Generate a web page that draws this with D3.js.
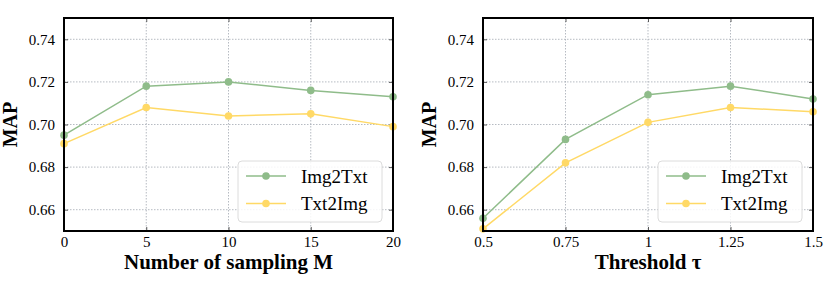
<!DOCTYPE html>
<html>
<head>
<meta charset="utf-8">
<script src="https://cdn.jsdelivr.net/npm/d3@7"></script>
<style>
  body { margin: 0; background: #fff; }
  svg text { font-family: "Liberation Serif", "Times New Roman", serif; fill: #000; }
</style>
</head>
<body>
<div class="chart"></div>
<script>
var svgWidth = 830;
var svgHeight = 293;

// data
var seriesNames = ["Img2Txt", "Txt2Img"];
var seriesColors = ["#8fbc8a", "#ffd966"];

var samplingM = [0, 5, 10, 15, 20];
var samplingImg2Txt = [0.695, 0.718, 0.720, 0.716, 0.713];
var samplingTxt2Img = [0.691, 0.708, 0.704, 0.705, 0.699];

var thresholds = [0.5, 0.75, 1, 1.25, 1.5];
var thresholdImg2Txt = [0.656, 0.693, 0.714, 0.718, 0.712];
var thresholdTxt2Img = [0.651, 0.682, 0.701, 0.708, 0.706];

var yTicks = [0.66, 0.68, 0.70, 0.72, 0.74];
var yDomain = [0.65, 0.75];

var panels = [
  {
    left: 64, right: 393, xs: samplingM, series: [samplingImg2Txt, samplingTxt2Img],
    xDomain: [0, 20], xTicks: samplingM, xFormat: d3.format("d"),
    xLabel: "Number of sampling M", legendX: 238
  },
  {
    left: 483, right: 813, xs: thresholds, series: [thresholdImg2Txt, thresholdTxt2Img],
    xDomain: [0.5, 1.5], xTicks: thresholds, xFormat: d => String(d),
    xLabel: "Threshold \u03c4", legendX: 658
  }
];

var plotTop = 18, plotBottom = 231;
var serif = "'Liberation Serif', 'Times New Roman', serif";

var svg = d3.select(".chart")
  .append("svg")
  .attr("width", svgWidth)
  .attr("height", svgHeight);

panels.forEach(function(p) {
  var width = p.right - p.left;
  var height = plotBottom - plotTop;

  var x = d3.scaleLinear().domain(p.xDomain).range([0, width]);
  var y = d3.scaleLinear().domain(yDomain).range([height, 0]);

  var g = svg.append("g").attr("transform", `translate(${p.left}, ${plotTop})`);

  // grid
  g.append("g").selectAll("line").data(p.xTicks).enter().append("line")
    .attr("x1", d => x(d)).attr("x2", d => x(d))
    .attr("y1", 0).attr("y2", height)
    .attr("stroke", "#a3aab2").attr("stroke-width", 0.8).attr("stroke-dasharray", "1.5,1.5");
  g.append("g").selectAll("line").data(yTicks).enter().append("line")
    .attr("x1", 0).attr("x2", width)
    .attr("y1", d => y(d)).attr("y2", d => y(d))
    .attr("stroke", "#a3aab2").attr("stroke-width", 0.8).attr("stroke-dasharray", "1.5,1.5");

  // axes, ticks pointing inward
  var bottomAxis = d3.axisBottom(x).tickValues(p.xTicks).tickFormat(p.xFormat).tickSizeInner(-4).tickSizeOuter(0).tickPadding(5);
  var leftAxis = d3.axisLeft(y).tickValues(yTicks).tickFormat(d3.format(".2f")).tickSizeInner(-4).tickSizeOuter(0).tickPadding(9);
  var topAxis = d3.axisTop(x).tickValues(p.xTicks).tickFormat("").tickSizeInner(-4).tickSizeOuter(0);
  var rightAxis = d3.axisRight(y).tickValues(yTicks).tickFormat("").tickSizeInner(-4).tickSizeOuter(0);

  var gx = g.append("g").attr("transform", `translate(0, ${height})`).call(bottomAxis);
  var gy = g.append("g").call(leftAxis);
  var gt = g.append("g").call(topAxis);
  var gr = g.append("g").attr("transform", `translate(${width}, 0)`).call(rightAxis);
  [gx, gy, gt, gr].forEach(function(a) {
    a.attr("font-family", serif).attr("font-size", 15);
    a.select(".domain").remove();
    a.selectAll("line").attr("stroke", "#333").attr("stroke-width", 0.8);
  });

  // lines and markers
  var line = d3.line().x((d, i) => x(p.xs[i])).y(d => y(d));
  p.series.forEach(function(vals, s) {
    g.append("path").datum(vals)
      .attr("fill", "none").attr("stroke", seriesColors[s]).attr("stroke-width", 1.5)
      .attr("d", line);
    g.append("g").selectAll("circle").data(vals).enter().append("circle")
      .attr("cx", (d, i) => x(p.xs[i])).attr("cy", d => y(d)).attr("r", 3.8)
      .attr("fill", seriesColors[s]);
  });

  // frame
  g.append("rect").attr("width", width).attr("height", height)
    .attr("fill", "none").attr("stroke", "#000").attr("stroke-width", 2);

  // legend
  var lg = svg.append("g").attr("transform", `translate(${p.legendX}, 161)`);
  lg.append("rect").attr("width", 144).attr("height", 61).attr("rx", 4)
    .attr("fill", "#fff").attr("fill-opacity", 0.85).attr("stroke", "#dcdcdc");
  seriesNames.forEach(function(name, s) {
    var yy = 15 + s * 27.5;
    lg.append("line").attr("x1", 8).attr("x2", 48).attr("y1", yy).attr("y2", yy)
      .attr("stroke", seriesColors[s]).attr("stroke-width", 1.5);
    lg.append("circle").attr("cx", 28).attr("cy", yy).attr("r", 3.8).attr("fill", seriesColors[s]);
    lg.append("text").attr("x", 63).attr("y", yy).attr("dy", "0.35em")
      .attr("font-family", serif).attr("font-size", 19).text(name);
  });

  // axis labels
  svg.append("text")
    .attr("x", (p.left + p.right) / 2).attr("y", 269)
    .attr("text-anchor", "middle")
    .attr("font-family", serif).attr("font-size", 21).attr("font-weight", "bold")
    .text(p.xLabel);

  svg.append("text")
    .attr("transform", `translate(${p.left - 47}, ${(plotTop + plotBottom) / 2}) rotate(-90)`)
    .attr("text-anchor", "middle")
    .attr("font-family", serif).attr("font-size", 20).attr("font-weight", "bold")
    .text("MAP");
});
</script>
</body>
</html>
